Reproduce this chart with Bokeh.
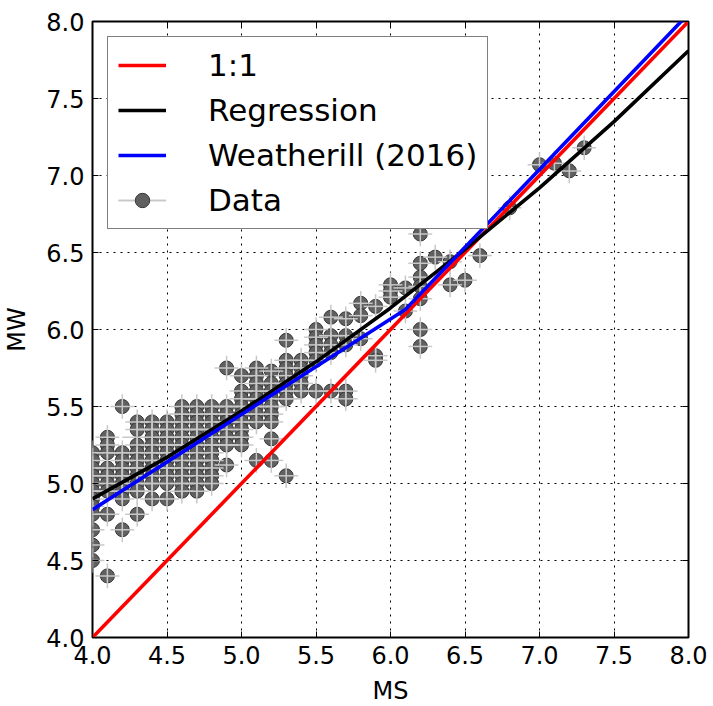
from bokeh.plotting import figure
from bokeh.models import (LinearAxis, FixedTicker, PrintfTickFormatter, Legend,
                          LegendItem, ColumnDataSource, Range1d, CustomJSTickFormatter)
from bokeh.embed import file_html
from bokeh.resources import INLINE

# ---------------- data ----------------
ms_cols = [4.0, 4.1, 4.2, 4.3, 4.4, 4.5, 4.6, 4.7, 4.8, 4.9,
           5.0, 5.1, 5.2, 5.3, 5.4, 5.5, 5.6, 5.7, 5.8, 5.9,
           6.0, 6.1, 6.2, 6.3, 6.4, 6.5, 6.6, 6.8, 7.0, 7.1, 7.2, 7.3]

mw_cols = [
    [5.2, 5.15, 5.1, 5.05, 5.0, 4.95, 4.9, 4.85, 4.8, 4.7, 4.6, 4.5],
    [5.3, 5.25, 5.2, 5.1, 5.05, 5.0, 4.95, 4.8, 4.4],
    [5.5, 5.2, 5.15, 5.1, 5.05, 5.0, 4.95, 4.9, 4.7],
    [5.4, 5.35, 5.25, 5.2, 5.15, 5.1, 5.05, 5.0, 4.95, 4.8],
    [5.4, 5.35, 5.3, 5.25, 5.2, 5.15, 5.1, 5.05, 5.0, 4.9],
    [5.4, 5.35, 5.3, 5.25, 5.2, 5.15, 5.1, 5.05, 5.0, 4.9],
    [5.5, 5.45, 5.4, 5.35, 5.3, 5.25, 5.2, 5.15, 5.1, 5.05, 5.0, 4.95],
    [5.5, 5.45, 5.4, 5.35, 5.3, 5.25, 5.2, 5.15, 5.1, 5.05, 5.0, 4.95],
    [5.5, 5.45, 5.4, 5.35, 5.3, 5.25, 5.2, 5.15, 5.1, 5.05, 5.0],
    [5.75, 5.5, 5.45, 5.4, 5.35, 5.3, 5.25, 5.12],
    [5.7, 5.6, 5.55, 5.5, 5.45, 5.4, 5.35, 5.3, 5.25],
    [5.75, 5.7, 5.65, 5.6, 5.55, 5.5, 5.45, 5.4, 5.15],
    [5.73, 5.65, 5.6, 5.55, 5.5, 5.45, 5.4, 5.29, 5.15],
    [5.93, 5.8, 5.75, 5.7, 5.65, 5.6, 5.55, 5.05],
    [5.8, 5.75, 5.7, 5.65, 5.6],
    [6.0, 5.95, 5.9, 5.85, 5.8, 5.6],
    [6.08, 5.96, 5.9, 5.85, 5.6],
    [6.07, 5.96, 5.9, 5.6, 5.55],
    [6.17, 6.09, 5.94],
    [6.15, 5.83, 5.8],
    [6.29, 6.25, 6.21],
    [6.27, 6.12],
    [6.62, 6.43, 6.34, 6.28, 6.2, 6.0, 5.89],
    [6.47],
    [6.44, 6.29],
    [6.32],
    [6.48],
    [6.79],
    [7.07],
    [7.08],
    [7.03],
    [7.18],
]

ms_err_cols = [
    [0.08, 0.08, 0.08, 0.2, 0.08, 0.08, 0.08, 0.08, 0.08, 0.08, 0.08, 0.08],
    [0.08, 0.08, 0.08, 0.08, 0.2, 0.08, 0.08, 0.08, 0.08],
    [0.08, 0.08, 0.08, 0.08, 0.08, 0.08, 0.2, 0.08, 0.08],
    [0.08, 0.08, 0.08, 0.2, 0.08, 0.08, 0.08, 0.08, 0.08, 0.08],
    [0.08, 0.08, 0.2, 0.08, 0.08, 0.08, 0.2, 0.08, 0.08, 0.08],
    [0.08, 0.2, 0.08, 0.08, 0.08, 0.08, 0.08, 0.08, 0.2, 0.08],
    [0.08, 0.08, 0.08, 0.2, 0.08, 0.08, 0.08, 0.2, 0.08, 0.08, 0.08, 0.08],
    [0.08, 0.2, 0.08, 0.08, 0.08, 0.25, 0.08, 0.08, 0.08, 0.08, 0.08, 0.08],
    [0.08, 0.08, 0.08, 0.08, 0.2, 0.08, 0.08, 0.08, 0.08, 0.08, 0.08],
    [0.08, 0.08, 0.2, 0.08, 0.08, 0.08, 0.08, 0.08],
    [0.08, 0.08, 0.08, 0.2, 0.08, 0.08, 0.08, 0.08, 0.08],
    [0.08, 0.08, 0.08, 0.08, 0.08, 0.2, 0.08, 0.08, 0.08],
    [0.08, 0.08, 0.08, 0.2, 0.08, 0.08, 0.08, 0.08, 0.08],
    [0.08, 0.08, 0.08, 0.08, 0.08, 0.08, 0.08, 0.08],
    [0.08, 0.08, 0.08, 0.08, 0.08],
    [0.08, 0.08, 0.08, 0.08, 0.08, 0.08],
    [0.08, 0.08, 0.08, 0.08, 0.08],
    [0.08, 0.08, 0.08, 0.08, 0.08],
    [0.08, 0.08, 0.08],
    [0.08, 0.08, 0.08],
    [0.08, 0.08, 0.08],
    [0.08, 0.08],
    [0.08, 0.08, 0.08, 0.08, 0.08, 0.08, 0.08],
    [0.08],
    [0.08, 0.08],
    [0.08],
    [0.08],
    [0.08],
    [0.08],
    [0.08],
    [0.08],
    [0.08],
]
MW_ERR = 0.08

one_x = [4.0, 8.0]
one_y = [4.0, 8.0]

reg_x = [4.0, 4.5, 5.0, 5.5, 6.0, 6.5, 7.0, 7.5, 8.0]
reg_y = [4.90, 5.17, 5.47, 5.79, 6.14, 6.52, 6.92, 7.35, 7.81]

wea_x = [4.0, 6.1, 8.0]
wea_y = [4.83, 6.13, 8.05]

x_ticks = [4.0, 4.5, 5.0, 5.5, 6.0, 6.5, 7.0, 7.5, 8.0]
y_ticks = [4.0, 4.5, 5.0, 5.5, 6.0, 6.5, 7.0, 7.5, 8.0]

# ---------------- build table ----------------
ms, mw, xe = [], [], []
for m, ys, es in zip(ms_cols, mw_cols, ms_err_cols):
    for y, e in zip(ys, es):
        ms.append(m); mw.append(y); xe.append(e)

src = ColumnDataSource(dict(
    ms=ms, mw=mw,
    x0=[a - e for a, e in zip(ms, xe)], x1=[a + e for a, e in zip(ms, xe)],
    y0=[b - MW_ERR for b in mw], y1=[b + MW_ERR for b in mw],
))

FONT = "DejaVu Sans"

p = figure(frame_width=596, frame_height=616,
           x_range=Range1d(4.0, 8.0), y_range=Range1d(4.0, 8.0),
           output_backend="svg", toolbar_location=None,
           min_border_left=89, min_border_right=20,
           min_border_top=21, min_border_bottom=59)

p.outline_line_color = "black"
p.outline_line_width = 2
p.background_fill_color = "white"
p.border_fill_color = "white"

for ax in (p.xaxis[0], p.yaxis[0]):
    ax.major_label_text_font = FONT
    ax.major_label_text_font_size = "24px"
    ax.major_label_text_color = "black"
    ax.axis_label_text_font = FONT
    ax.axis_label_text_font_size = "24px"
    ax.axis_label_text_font_style = "normal"
    ax.axis_label_text_color = "black"
    ax.major_tick_in = 6
    ax.major_tick_out = 0
    ax.minor_tick_line_color = None
    ax.axis_line_color = None
    ax.major_tick_line_color = "black"
    ax.major_tick_line_width = 1
    ax.formatter = PrintfTickFormatter(format="%.1f")

p.xaxis[0].ticker = FixedTicker(ticks=x_ticks)
p.yaxis[0].ticker = FixedTicker(ticks=y_ticks)
p.xaxis[0].axis_label = "MS"
p.yaxis[0].axis_label = "MW"
p.xaxis[0].major_label_standoff = 8
p.yaxis[0].major_label_standoff = 8
p.xaxis[0].axis_label_standoff = 10
p.yaxis[0].axis_label_standoff = 12

blank = CustomJSTickFormatter(code="return ''")
top_ax = LinearAxis(ticker=FixedTicker(ticks=x_ticks), formatter=blank,
                    major_tick_in=6, major_tick_out=0, minor_tick_line_color=None,
                    axis_line_color=None, major_label_standoff=0)
right_ax = LinearAxis(ticker=FixedTicker(ticks=y_ticks), formatter=blank,
                      major_tick_in=6, major_tick_out=0, minor_tick_line_color=None,
                      axis_line_color=None, major_label_standoff=0)
p.add_layout(top_ax, "above")
p.add_layout(right_ax, "right")

p.xgrid.ticker = FixedTicker(ticks=x_ticks)
p.ygrid.ticker = FixedTicker(ticks=y_ticks)
p.grid.grid_line_color = "black"
p.grid.grid_line_dash = "2 5"
p.grid.grid_line_width = 1

# data
r_pts = p.scatter("ms", "mw", source=src, size=14, fill_color="#606060",
                  line_color="#353535", line_width=1)
r_xe = p.segment("x0", "mw", "x1", "mw", source=src, line_color="#c8c8c8", line_width=1.5)
r_ye = p.segment("ms", "y0", "ms", "y1", source=src, line_color="#c8c8c8", line_width=1.5)

# lines
r_one = p.line(one_x, one_y, line_color="red", line_width=3.6)
r_reg = p.line(reg_x, reg_y, line_color="black", line_width=3.6)
r_wea = p.line(wea_x, wea_y, line_color="blue", line_width=3.6)

legend = Legend(items=[
    LegendItem(label="1:1", renderers=[r_one]),
    LegendItem(label="Regression", renderers=[r_reg]),
    LegendItem(label="Weatherill (2016)", renderers=[r_wea]),
    LegendItem(label="Data", renderers=[r_xe, r_ye, r_pts]),
], location="top_left")
legend.margin = 15
legend.padding = 10
legend.spacing = 9
legend.glyph_height = 36
legend.glyph_width = 48
legend.label_height = 36
legend.label_standoff = 42
legend.label_text_font = FONT
legend.label_text_font_size = "31px"
legend.label_text_color = "black"
legend.border_line_color = "black"
legend.border_line_width = 1.5
legend.background_fill_color = "white"
legend.background_fill_alpha = 1.0
p.add_layout(legend)

open("out.html", "w").write(file_html(p, INLINE))
